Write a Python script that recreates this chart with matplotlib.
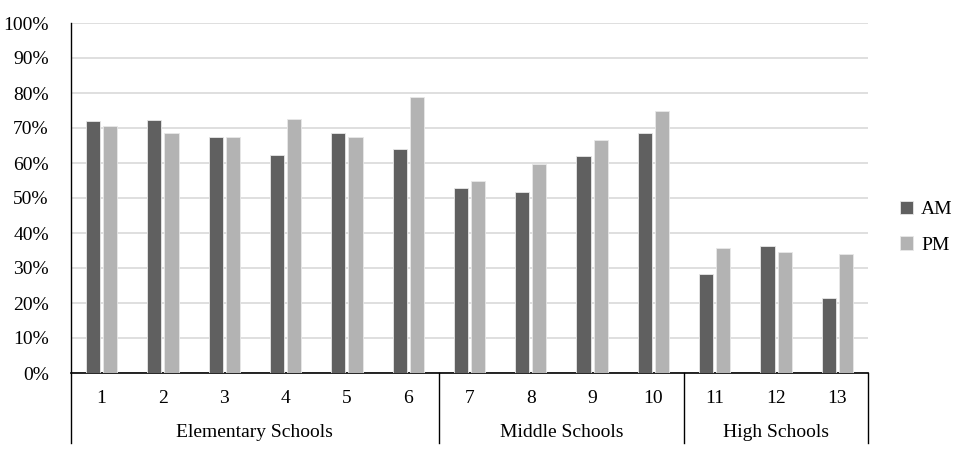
import matplotlib
matplotlib.use("Agg")
import matplotlib.pyplot as plt
import numpy as np

schools = ["1", "2", "3", "4", "5", "6", "7", "8", "9", "10", "11", "12", "13"]
am = [72.1, 72.3, 67.3, 62.3, 68.5, 64.1, 52.8, 51.7, 62.1, 68.5, 28.2, 36.2, 21.5]
pm = [70.5, 68.7, 67.3, 72.6, 67.5, 78.8, 54.9, 59.8, 66.6, 75.0, 35.7, 34.6, 33.9]
groups = ["Elementary Schools", "Middle Schools", "High Schools"]
group_sizes = [6, 4, 3]
yticks = list(range(0, 101, 10))

plt.rcParams['font.family'] = ['Liberation Serif', 'DejaVu Serif']

fig = plt.figure(figsize=(9.57, 4.49), dpi=100)
ax = fig.add_axes([71/957, 76/449, 797/957, 350/449])

x = np.arange(len(schools))
w = 0.23
off = 0.14
ax.bar(x - off, am, w, color="#606060", edgecolor="#e8e8e8", linewidth=0.6, label="AM", zorder=3)
ax.bar(x + off, pm, w, color="#b3b3b3", edgecolor="#e8e8e8", linewidth=0.6, label="PM", zorder=3)

ax.set_xlim(-0.5, len(schools) - 0.5)
ax.set_ylim(0, 100)
ax.set_yticks(yticks)
ax.set_yticklabels([f"{v}%" for v in yticks], fontsize=14)
ax.yaxis.grid(True, color="#d9d9d9", linewidth=1.2, zorder=0)
ax.tick_params(axis='y', length=0, pad=16)
ax.set_xticks(x)
ax.set_xticklabels(schools, fontsize=14)
ax.tick_params(axis='x', length=0, pad=12)
for s in ["top", "right"]:
    ax.spines[s].set_visible(False)
ax.spines["left"].set_visible(False)
ax.spines["bottom"].set_color("black")
ax.spines["bottom"].set_linewidth(1.2)

trans = ax.get_xaxis_transform()
bounds = [-0.5]
acc = -0.5
for g in group_sizes:
    acc += g
    bounds.append(acc)
for i, b in enumerate(bounds):
    ytop = 1.0 if i == 0 else 0.0
    ax.plot([b, b], [ytop, -0.2], transform=trans, color="black", linewidth=1.0, clip_on=False, zorder=4)
for i, g in enumerate(groups):
    c = (bounds[i] + bounds[i + 1]) / 2
    ax.text(c, -0.17, g, transform=trans, ha="center", va="center", fontsize=14)

leg = fig.legend(loc="center left", bbox_to_anchor=(0.922, 0.494), frameon=False,
                 fontsize=14, handlelength=0.7, handleheight=0.7, handletextpad=0.4,
                 labelspacing=0.9)

fig.savefig("out.png", dpi=100)
